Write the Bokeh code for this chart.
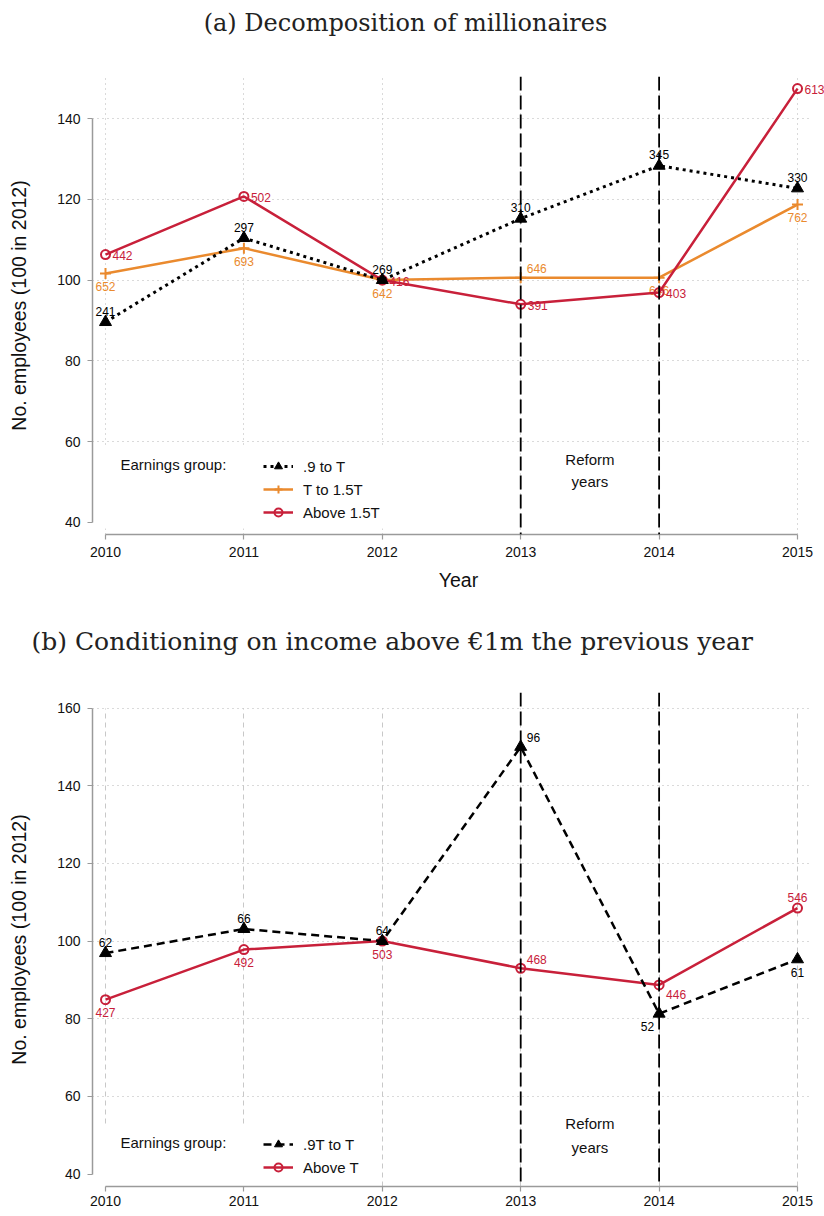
from bokeh.plotting import figure
from bokeh.models import ColumnDataSource, FixedTicker, Span, Legend, LegendItem, Grid
from bokeh.layouts import column
from bokeh.embed import file_html
from bokeh.resources import INLINE
from bokeh.core.properties import value, field

# ---------------- data ----------------
years = [2010, 2011, 2012, 2013, 2014, 2015]

# Panel (a): index (100 in 2012) and counts shown as labels
a_9_to_T = [89.6, 110.4, 100.0, 115.2, 128.3, 122.7]
a_9_to_T_counts = ["241", "297", "269", "310", "345", "330"]
a_T_to_15T = [101.6, 107.9, 100.0, 100.6, 100.6, 118.7]
a_T_to_15T_counts = ["652", "693", "642", "646", "646", "762"]
a_above_15T = [106.3, 120.7, 100.0, 94.0, 96.9, 147.4]
a_above_15T_counts = ["442", "502", "416", "391", "403", "613"]

# Panel (b)
b_9T_to_T = [96.9, 103.1, 100.0, 150.0, 81.3, 95.3]
b_9T_to_T_counts = ["62", "66", "64", "96", "52", "61"]
b_above_T = [84.9, 97.8, 100.0, 93.0, 88.7, 108.5]
b_above_T_counts = ["427", "492", "503", "468", "446", "546"]

reform_years = [2013, 2014]
a_yticks = [40, 60, 80, 100, 120, 140]
b_yticks = [40, 60, 80, 100, 120, 140, 160]

title_a = "(a) Decomposition of millionaires"
title_b = "(b) Conditioning on income above €1m the previous year"

# ---------------- styles ----------------
RED = "#C8203A"
ORANGE = "#EA8A2E"
BLACK = "#000000"
SANS = "Liberation Sans"
SERIF = "DejaVu Serif"
W = 824
LEFT = 92

# label placement codes per point (style only)
a_9_pos = ["N", "N", "N", "N", "N", "N"]
a_T_pos = ["S", "S", "S", "NE", "S", "S"]
a_ab_pos = ["E", "E", "E", "E", "E", "E"]
b_9_pos = ["N", "N", "N", "NE", "SW", "S"]
b_ab_pos = ["S", "S", "S", "NE", "SE", "N"]

POS = {
    "N": (0, -11, "center"),
    "S": (0, 13, "center"),
    "E": (7, 1, "left"),
    "NE": (6, -9, "left"),
    "SE": (7, 10, "left"),
    "SW": (-5, 13, "right"),
}


def label_source(xs, ys, labels, pos):
    return ColumnDataSource(dict(
        x=xs, y=ys, label=labels,
        xo=[POS[p][0] for p in pos],
        yo=[POS[p][1] for p in pos],
        align=[POS[p][2] for p in pos],
    ))


def title_fig_glyph(text, height, cx, size):
    t = figure(width=W, height=height, output_backend="svg", toolbar_location=None,
               x_range=(LEFT, W), y_range=(0, height), x_axis_type=None, y_axis_type=None,
               min_border=0, min_border_left=LEFT)
    t.outline_line_color = None
    t.xgrid.visible = False
    t.ygrid.visible = False
    t.text(x=[cx], y=[height / 2], text=[text], text_align="center",
           text_baseline="middle", text_font=value(SERIF),
           text_font_size=value(size), text_color="#222222")
    return t


def title_fig_title(text, height, left_px, size, standoff):
    t = figure(width=W, height=height, output_backend="svg", toolbar_location=None,
               x_range=(0, 1), y_range=(0, 1), x_axis_type=None, y_axis_type=None,
               min_border=0, min_border_left=LEFT, title=text)
    t.outline_line_color = None
    t.xgrid.visible = False
    t.ygrid.visible = False
    t.title.text_font = SERIF
    t.title.text_font_size = size
    t.title.text_font_style = "normal"
    t.title.text_color = "#222222"
    t.title.align = "left"
    t.title.offset = left_px - LEFT
    t.title.vertical_align = "middle"
    t.title.standoff = standoff
    return t


def style_axes(p, yticks, ybounds):
    p.xaxis.ticker = FixedTicker(ticks=years)
    p.yaxis.ticker = FixedTicker(ticks=yticks)
    p.xaxis.bounds = (years[0], years[-1])
    p.yaxis.bounds = ybounds
    for ax in (p.xaxis[0], p.yaxis[0]):
        ax.axis_line_color = "#9A9A9A"
        ax.axis_line_width = 1.5
        ax.major_tick_line_color = "#9A9A9A"
        ax.major_tick_line_width = 1.2
        ax.major_tick_out = 5
        ax.major_tick_in = 0
        ax.minor_tick_line_color = None
        ax.major_label_text_font = SANS
        ax.major_label_text_font_size = "14px"
        ax.major_label_text_color = "#111111"
        ax.major_label_standoff = 7
        ax.axis_label_text_font = SANS
        ax.axis_label_text_font_size = "19.5px"
        ax.axis_label_text_font_style = "normal"
        ax.axis_label_text_color = "#111111"
    p.yaxis.axis_label = "No. employees (100 in 2012)"
    p.yaxis.axis_label_standoff = 24
    p.yaxis.major_label_orientation = "horizontal"


def add_reform(p, ys):
    for yr in reform_years:
        p.add_layout(Span(location=yr, dimension="height", line_color="black",
                          line_dash="14 5", line_width=1.8))
    p.text(x=[sum(reform_years) / 2] * 2, y=ys, text=["Reform", "years"],
           text_align="center", text_baseline="middle",
           text_font=value(SANS), text_font_size=value("15px"), text_color="#111111")


def add_series(p, ys, labels, pos, color, marker, dash, lw, msize, mlw, fill):
    ln = p.line(years, ys, line_color=color, line_width=lw, line_dash=dash)
    if fill:
        sc = p.scatter(years, ys, marker=marker, size=msize, fill_color=color,
                       line_color=color, line_width=mlw)
    else:
        sc = p.scatter(years, ys, marker=marker, size=msize, fill_alpha=0,
                       line_color=color, line_width=mlw)
    src = label_source(years, ys, labels, pos)
    p.text(x="x", y="y", text="label", source=src, x_offset="xo", y_offset="yo",
           text_align=field("align"), text_baseline="middle",
           text_font=value(SANS), text_font_size=value("12px"), text_color=color)
    return ln, sc


def make_legend(p, items, loc):
    leg = Legend(items=items, location=loc, orientation="vertical",
                 glyph_width=30, glyph_height=20, label_height=20, spacing=3,
                 padding=0, margin=0, label_standoff=10,
                 background_fill_alpha=0, border_line_alpha=0,
                 label_text_font=SANS, label_text_font_size="15px",
                 label_text_color="#111111")
    p.add_layout(leg)


has_cross = "cross_bounds" in Grid.properties()
XR = (2009.906, 2015.195)

# ================= Panel (a) =================
ta = title_fig_glyph(title_a, 44, 405, "24px")
pa = figure(width=W, height=576, output_backend="svg", toolbar_location=None,
            x_range=XR, y_range=(37.0, 150.4),
            min_border_left=LEFT, min_border_right=0, min_border_top=32, min_border_bottom=86)
pa.outline_line_color = None
style_axes(pa, a_yticks, (40, 140))
pa.xaxis.axis_label = "Year"
pa.xaxis.axis_label_standoff = 9
pa.xgrid.ticker = FixedTicker(ticks=years)
pa.ygrid.ticker = FixedTicker(ticks=a_yticks[1:])
for g in (pa.xgrid[0], pa.ygrid[0]):
    g.grid_line_color = "#B4B4B4"
    g.grid_line_dash = "1 4"
    g.grid_line_width = 1
if has_cross:
    pa.ygrid[0].cross_bounds = (XR[0], 2015.08)

# white box behind legend
pa.quad(left=[2009.93], right=[2012.15], bottom=[38.5], top=[58.8],
        fill_color="white", line_color=None)

add_reform(pa, [55.6, 50.1])
o1 = add_series(pa, a_T_to_15T, a_T_to_15T_counts, a_T_pos, ORANGE, "cross", "solid", 2.5, 11, 2, True)
r1 = add_series(pa, a_above_15T, a_above_15T_counts, a_ab_pos, RED, "circle", "solid", 2.5, 9, 2, False)
k1 = add_series(pa, a_9_to_T, a_9_to_T_counts, a_9_pos, BLACK, "triangle", "3 4", 3, 12, 1, True)
pa.text(x=[2010.108], y=[54.35], text=["Earnings group:"], text_align="left",
        text_baseline="middle", text_font=value(SANS), text_font_size=value("15px"),
        text_color="#111111")
make_legend(pa, [LegendItem(label=".9 to T", renderers=list(k1)),
                 LegendItem(label="T to 1.5T", renderers=list(o1)),
                 LegendItem(label="Above 1.5T", renderers=list(r1))], (171, 12))

# ================= Panel (b) =================
tb = title_fig_title(title_b, 44, 31, "25px", 11)
pb = figure(width=W, height=548, output_backend="svg", toolbar_location=None,
            x_range=XR, y_range=(36.8, 164.0),
            min_border_left=LEFT, min_border_right=0, min_border_top=28, min_border_bottom=26)
pb.outline_line_color = None
style_axes(pb, b_yticks, (40, 160))
pb.xaxis.major_label_standoff = 4
pb.xgrid.ticker = FixedTicker(ticks=years)
pb.ygrid.ticker = FixedTicker(ticks=b_yticks[1:])
pb.ygrid[0].grid_line_color = "#B4B4B4"
pb.ygrid[0].grid_line_dash = "1 4"
pb.xgrid[0].grid_line_color = "#C8C8C8"
pb.xgrid[0].grid_line_dash = "5 4"
if has_cross:
    pb.ygrid[0].cross_bounds = (XR[0], 2015.08)
    pb.xgrid[0].cross_bounds = (36.8, 160)

pb.quad(left=[2009.93], right=[2011.97], bottom=[36.8], top=[52.9],
        fill_color="white", line_color=None)

add_reform(pb, [52.9, 46.8])
r2 = add_series(pb, b_above_T, b_above_T_counts, b_ab_pos, RED, "circle", "solid", 2.5, 9, 2, False)
k2 = add_series(pb, b_9T_to_T, b_9T_to_T_counts, b_9_pos, BLACK, "triangle", "8 5", 2.5, 12, 1, True)
pb.text(x=[2010.108], y=[48.1], text=["Earnings group:"], text_align="left",
        text_baseline="middle", text_font=value(SANS), text_font_size=value("15px"),
        text_color="#111111")
make_legend(pb, [LegendItem(label=".9T to T", renderers=list(k2)),
                 LegendItem(label="Above T", renderers=list(r2))], (171, 9))

layout = column(ta, pa, tb, pb)
open("out.html", "w").write(file_html(layout, INLINE))
